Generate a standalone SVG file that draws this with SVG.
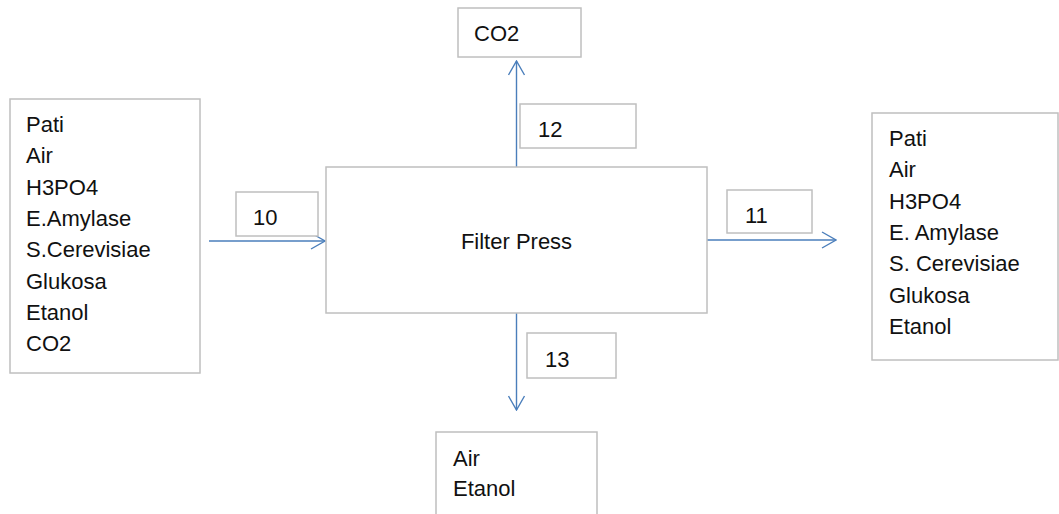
<svg xmlns="http://www.w3.org/2000/svg" width="1059" height="514" viewBox="0 0 1059 514">
  <style>
    .box { fill: #ffffff; stroke: #bfbfbf; stroke-width: 1.5; }
    .lbl { font-family: "Liberation Sans", Arial, sans-serif; font-size: 22px; fill: #111111; }
    .flow { fill: none; stroke: #4a7ebb; stroke-width: 1.4; }
  </style>
  <defs>
    <marker id="open-arrow" viewBox="0 0 16 18" refX="15" refY="9" markerWidth="16" markerHeight="18" markerUnits="userSpaceOnUse" orient="auto">
      <path d="M1,1 L15,9 L1,17" fill="none" stroke="#4a7ebb" stroke-width="1.4"/>
    </marker>
  </defs>

  <!-- process streams -->
  <g id="connectors">
    <line class="flow" x1="209" y1="241" x2="325" y2="241" marker-end="url(#open-arrow)"/>
    <line class="flow" x1="707" y1="240" x2="836" y2="240" marker-end="url(#open-arrow)"/>
    <line class="flow" x1="516.5" y1="167" x2="516.5" y2="61" marker-end="url(#open-arrow)"/>
    <line class="flow" x1="516.5" y1="313" x2="516.5" y2="410" marker-end="url(#open-arrow)"/>
  </g>

  <g id="feed">
    <rect class="box" x="10" y="99" width="190" height="274"/>
    <text class="lbl" x="26" y="132">Pati</text>
    <text class="lbl" x="26" y="163.3">Air</text>
    <text class="lbl" x="26" y="194.6">H3PO4</text>
    <text class="lbl" x="26" y="225.9">E.Amylase</text>
    <text class="lbl" x="26" y="257.2">S.Cerevisiae</text>
    <text class="lbl" x="26" y="288.5">Glukosa</text>
    <text class="lbl" x="26" y="319.8">Etanol</text>
    <text class="lbl" x="26" y="351.1">CO2</text>
  </g>

  <g id="stream-10">
    <rect class="box" x="236" y="192" width="82" height="44"/>
    <text class="lbl" x="253" y="225">10</text>
  </g>

  <g id="filter-press">
    <rect class="box" x="326" y="167" width="381" height="146"/>
    <text class="lbl" x="516.5" y="249" text-anchor="middle">Filter Press</text>
  </g>

  <g id="stream-11">
    <rect class="box" x="727" y="190" width="85" height="43"/>
    <text class="lbl" x="745" y="223">11</text>
  </g>

  <g id="product">
    <rect class="box" x="872" y="113" width="186" height="247"/>
    <text class="lbl" x="889" y="146">Pati</text>
    <text class="lbl" x="889" y="177.3">Air</text>
    <text class="lbl" x="889" y="208.6">H3PO4</text>
    <text class="lbl" x="889" y="239.9">E. Amylase</text>
    <text class="lbl" x="889" y="271.2">S. Cerevisiae</text>
    <text class="lbl" x="889" y="302.5">Glukosa</text>
    <text class="lbl" x="889" y="333.8">Etanol</text>
  </g>

  <g id="stream-12">
    <rect class="box" x="520" y="104" width="116" height="44"/>
    <text class="lbl" x="538" y="137">12</text>
  </g>

  <g id="gas-out">
    <rect class="box" x="458" y="8" width="123" height="49"/>
    <text class="lbl" x="474" y="41">CO2</text>
  </g>

  <g id="stream-13">
    <rect class="box" x="527" y="333" width="89" height="45"/>
    <text class="lbl" x="545" y="367">13</text>
  </g>

  <g id="liquid-out">
    <path class="box" d="M436,516 L436,432 L597,432 L597,516"/>
    <text class="lbl" x="453" y="466">Air</text>
    <text class="lbl" x="453" y="496">Etanol</text>
  </g>
</svg>
